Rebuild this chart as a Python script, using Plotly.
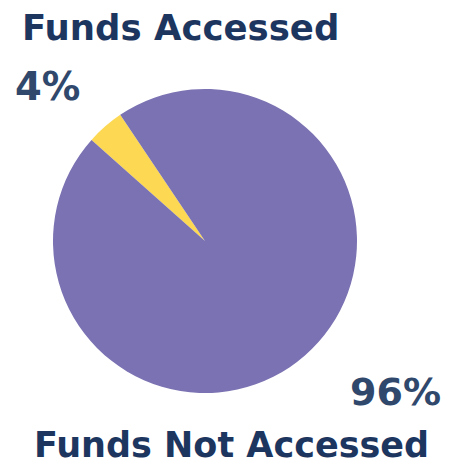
import plotly.graph_objects as go

labels = ["Funds Accessed", "Funds Not Accessed"]
values = [4, 96]
colors = ["#fdd853", "#7a72b2"]
pct_labels = ["4%", "96%"]

W, H = 458, 465
cx, cy, r = 205, 241, 152

fig = go.Figure(go.Pie(
    labels=labels, values=values, sort=False, direction="clockwise",
    rotation=-48.3, marker=dict(colors=colors, line=dict(width=0)),
    textinfo="none", hoverinfo="label+percent", showlegend=False,
    domain=dict(x=[(cx - r) / W, (cx + r) / W], y=[1 - (cy + r) / H, 1 - (cy - r) / H]),
))

font = "DejaVu Sans"
navy = "#1d365f"
pctc = "#2f486c"

def ann(text, x, y, size, color):
    fig.add_annotation(text=f"<b>{text}</b>", x=x / W, y=1 - y / H, xref="paper", yref="paper",
                       xanchor="center", yanchor="middle", showarrow=False,
                       font=dict(family=font, size=size, color=color))

ann(labels[0], 180, 27, 35.5, navy)
ann(pct_labels[0], 47.5, 86, 38.5, pctc)
ann(pct_labels[1], 395, 392, 38, pctc)
ann(labels[1], 231.5, 445, 35, navy)

fig.update_layout(width=W, height=H, margin=dict(l=0, r=0, t=0, b=0),
                  paper_bgcolor="white", plot_bgcolor="white")
fig.write_html("out.html", config={"displayModeBar": False},
               post_script="document.body.style.margin='0';")
